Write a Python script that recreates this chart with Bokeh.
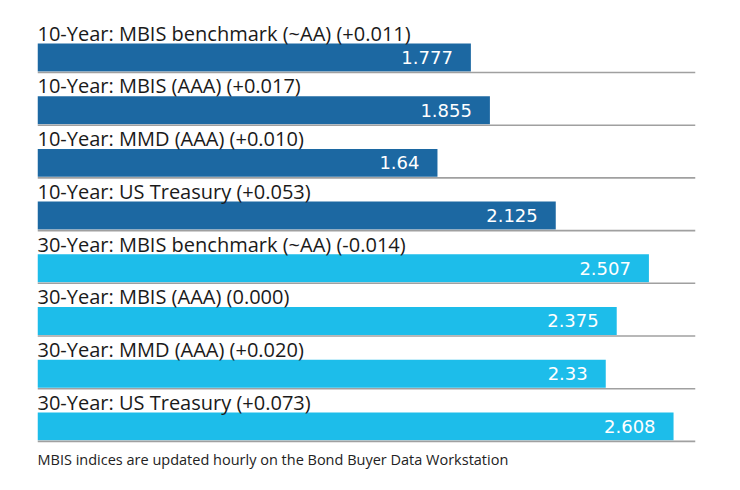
from bokeh.plotting import figure
from bokeh.models import Range1d, ColumnDataSource
from bokeh.embed import file_html
from bokeh.resources import INLINE
from bokeh.core.properties import value

labels = [
    "10-Year: MBIS benchmark (~AA) (+0.011)",
    "10-Year: MBIS (AAA) (+0.017)",
    "10-Year: MMD (AAA) (+0.010)",
    "10-Year: US Treasury (+0.053)",
    "30-Year: MBIS benchmark (~AA) (-0.014)",
    "30-Year: MBIS (AAA) (0.000)",
    "30-Year: MMD (AAA) (+0.020)",
    "30-Year: US Treasury (+0.073)",
]
values = [1.777, 1.855, 1.64, 2.125, 2.507, 2.375, 2.33, 2.608]
value_text = ["1.777", "1.855", "1.64", "2.125", "2.507", "2.375", "2.33", "2.608"]
groups = ["10", "10", "10", "10", "30", "30", "30", "30"]
footer = "MBIS indices are updated hourly on the Bond Buyer Data Workstation"

colors = {"10": "#1c68a2", "30": "#1dbdea"}
n = len(labels)
rows = list(range(n))

src = ColumnDataSource(dict(
    row=rows,
    label=labels,
    val=values,
    vt=value_text,
    color=[colors[g] for g in groups],
    bar_top=[r + 0.45 for r in rows],
    bar_bot=[r + 0.98 for r in rows],
    bar_mid=[r + 0.715 for r in rows],
    lab_y=[r + 0.255 for r in rows],
    sep_y=[r + 1.0 for r in rows],
    x0=[0.0] * n,
    x1=[2.698] * n,
))

p = figure(width=724, height=474, output_backend="svg", toolbar_location=None,
           x_range=Range1d(0, 2.698), y_range=Range1d(8.628, -0.366),
           min_border_left=37, min_border_right=29, min_border_top=0, min_border_bottom=0)
p.axis.visible = False
p.grid.visible = False
p.outline_line_color = None
p.background_fill_color = "white"

p.quad(left="x0", right="val", top="bar_top", bottom="bar_bot", fill_color="color",
       line_color=None, source=src)
p.segment(x0="x0", x1="x1", y0="sep_y", y1="sep_y", line_color="#a0a0a0",
          line_width=1.6, source=src)
p.text(x="x0", y="lab_y", text="label", source=src, text_font=value("Open Sans"),
       text_font_size="20px", text_color="#1a1a1a", text_baseline="middle",
       text_align="left")
p.text(x="val", y="bar_mid", text="vt", source=src, text_font=value("DejaVu Sans"),
       text_font_size="18px", text_color="white", text_baseline="middle",
       text_align="right", x_offset=-18)
p.text(x=[0.0], y=[8.34], text=[footer], text_font=value("Open Sans"),
       text_font_size="14.5px", text_color="#222222", text_baseline="middle",
       text_align="left")

open("out.html", "w").write(file_html(p, INLINE))
